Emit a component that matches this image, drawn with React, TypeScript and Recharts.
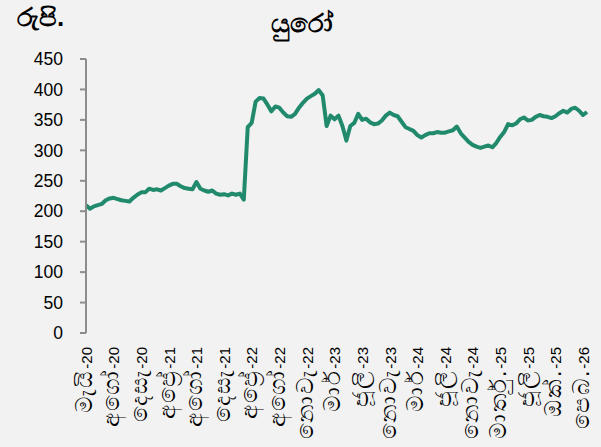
import React from 'react';
import { LineChart, Line, XAxis, YAxis } from 'recharts';

const values: number[] = [
  210, 204, 208, 210, 212, 218, 221, 222, 220, 218,
  217, 216, 222, 227, 231, 231, 237, 235, 236, 234,
  238, 242, 245, 245, 241, 238, 237, 236, 248, 237,
  234, 232, 234, 229, 227, 228, 226, 229, 227, 229,
  219, 338, 345, 380, 386, 385, 375, 364, 372, 370,
  362, 356, 355, 360, 370, 378, 385, 389, 393, 399,
  390, 340, 357, 351, 357, 340, 316, 340, 345, 360,
  350, 352, 346, 343, 344, 349, 357, 362, 358, 356,
  347, 338, 335, 332, 325, 321, 325, 328, 328, 330,
  329, 329, 331, 333, 339, 328, 321, 314, 309, 306,
  304, 306, 308, 305, 312, 322, 330, 343, 341, 344,
  351, 354, 349, 350, 355, 358, 356, 355, 353, 356,
  361, 365, 362, 368, 370, 365, 358, 363,
];

const monthNames: string[] = [
  'මැයි', 'අගෝ', 'දෙසැ', 'අප්\u200Dරේ', 'අගෝ', 'දෙසැ',
  'අප්\u200Dරේ', 'අගෝ', 'නොවැ', 'මාර්', 'ජූලි', 'නොවැ',
  'මාර්', 'ජූලි', 'නොවැ', 'මාර්තු.', 'ජූලි', 'ඔක්.', 'පෙබ.',
];
const yearSuffixes: string[] = [
  '-20', '-20', '-20', '-21', '-21', '-21',
  '-22', '-22', '-22', '-23', '-23', '-23',
  '-24', '-24', '-24', '-25', '-25', '-25', '-26',
];

const labelStep = 7;
const markCount = 20;
const yTicks: number[] = [0, 50, 100, 150, 200, 250, 300, 350, 400, 450];

const title = 'යුරෝ';
const unitLabel = 'රුපි.';

const lastIndex = values.length - 1;
const data = values.map((v, i) => ({ i, v }));
const labelTicks = monthNames.map((_, k) => k * labelStep);
const markTicks = Array.from({ length: markCount }, (_, j) => (lastIndex * j) / (markCount - 1));

const FONT = '"Liberation Sans", Arial, sans-serif';
const AXIS = '#8c8c8c';

const XLabelTick = (props: any) => {
  const { x, y, payload } = props;
  const k = Math.round(payload.value / labelStep);
  return (
    <text
      x={0}
      y={0}
      transform={`translate(${x}, ${y}) rotate(-90)`}
      textAnchor="end"
      dy="0.36em"
      fontFamily={FONT}
      fill="#000"
    >
      <tspan fontSize={23} letterSpacing={2}>{monthNames[k] ?? ''}</tspan>
      <tspan fontSize={15}>{yearSuffixes[k] ?? ''}</tspan>
    </text>
  );
};

export default function App() {
  return (
    <div
      style={{
        position: 'absolute',
        left: 0,
        top: 0,
        width: 601,
        height: 447,
        background: '#f2f2f2',
        overflow: 'hidden',
      }}
    >
      <div
        style={{
          position: 'absolute',
          left: 17,
          top: 0,
          fontSize: 26,
          fontFamily: FONT,
          color: '#000',
          fontWeight: 700,
          lineHeight: '34px',
        }}
      >
        {unitLabel}
      </div>
      <div
        style={{
          position: 'absolute',
          left: 0,
          top: 6,
          width: 604,
          textAlign: 'center',
          fontSize: 26,
          fontWeight: 700,
          fontFamily: FONT,
          color: '#000',
          lineHeight: '34px',
        }}
      >
        {title}
      </div>
      <LineChart
        width={601}
        height={447}
        data={data}
        margin={{ top: 59, right: 14, left: 0, bottom: 0 }}
        style={{ position: 'absolute', left: 0, top: 0 }}
      >
        <XAxis
          xAxisId="marks"
          dataKey="i"
          type="number"
          domain={[0, lastIndex]}
          ticks={markTicks}
          interval={0}
          tick={false}
          height={0}
          tickSize={6}
          axisLine={{ stroke: AXIS, strokeWidth: 2 }}
          tickLine={{ stroke: AXIS, strokeWidth: 2 }}
        />
        <XAxis
          xAxisId="labels"
          dataKey="i"
          type="number"
          domain={[0, lastIndex]}
          ticks={labelTicks}
          interval={0}
          height={114}
          axisLine={false}
          tickLine={false}
          tickSize={0}
          tickMargin={14}
          tick={<XLabelTick />}
        />
        <YAxis
          width={86}
          domain={[0, 450]}
          ticks={yTicks}
          interval={0}
          tickSize={6}
          tickMargin={17}
          axisLine={{ stroke: AXIS, strokeWidth: 2 }}
          tickLine={{ stroke: AXIS, strokeWidth: 2 }}
          tick={{ fontSize: 17.5, fill: '#000', fontFamily: FONT }}
        />
        <Line
          xAxisId="labels"
          dataKey="v"
          type="linear"
          stroke="#218a6d"
          strokeWidth={4}
          dot={false}
          isAnimationActive={false}
          strokeLinejoin="round"
        />
      </LineChart>
    </div>
  );
}
